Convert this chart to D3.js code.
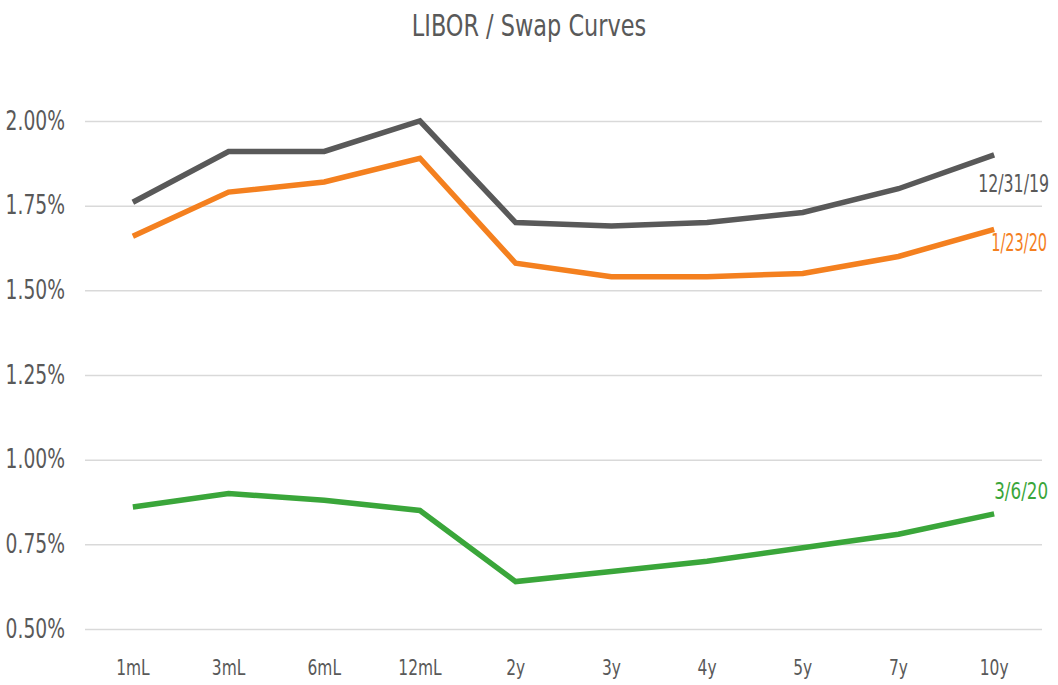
<!DOCTYPE html>
<html>
<head>
<meta charset="utf-8">
<script src="https://cdn.jsdelivr.net/npm/d3@7"></script>
<style>
  html, body { margin: 0; padding: 0; background: #fff; }
  svg text { font-family: "Liberation Sans Narrow", "DejaVu Sans Condensed", "Arial Narrow", sans-serif; }
</style>
</head>
<body>
<div id="chart"></div>
<script>
// tenors on the x axis
const tenors = ["1mL", "3mL", "6mL", "12mL", "2y", "3y", "4y", "5y", "7y", "10y"];

// curves (in %)
const dec31 = [1.76, 1.91, 1.91, 2.00, 1.70, 1.69, 1.70, 1.73, 1.80, 1.90];
const jan23 = [1.66, 1.79, 1.82, 1.89, 1.58, 1.54, 1.54, 1.55, 1.60, 1.68];
const mar06 = [0.86, 0.90, 0.88, 0.85, 0.64, 0.67, 0.70, 0.74, 0.78, 0.84];

const yTicks = [0.50, 0.75, 1.00, 1.25, 1.50, 1.75, 2.00];

const seriesNames = ["12/31/19", "1/23/20", "3/6/20"];
const seriesData = [dec31, jan23, mar06];

const WIDTH = 1058;
const HEIGHT = 685;
const MARGIN = { top: 121, right: 16, bottom: 56, left: 85 };
const COLORS = ["#595959", "#f4801f", "#3aa63a"];
const TEXT_COLOR = "#595959";

// 横方向に詰める (reference font is narrow)
const squeeze = (sel, factor) => {
  sel.each(function () {
    const w = this.getComputedTextLength();
    d3.select(this)
      .attr("textLength", w * factor)
      .attr("lengthAdjust", "spacingAndGlyphs");
  });
};

const svg = d3.select("#chart")
  .append("svg")
  .attr("width", WIDTH)
  .attr("height", HEIGHT)
  .attr("viewBox", `0 0 ${WIDTH} ${HEIGHT}`);

// タイトル
svg.append("text")
  .attr("x", 529)
  .attr("y", 36)
  .attr("text-anchor", "middle")
  .attr("font-size", "30px")
  .attr("fill", TEXT_COLOR)
  .text("LIBOR / Swap Curves")
  .call(squeeze, 0.83);

const x = d3.scaleBand()
  .domain(tenors)
  .range([MARGIN.left, WIDTH - MARGIN.right]);

const y = d3.scaleLinear()
  .domain([0.5, 2.0])
  .range([HEIGHT - MARGIN.bottom, MARGIN.top]);

// Y軸 + grid
const yAxis = svg.append("g")
  .attr("class", "y-axis")
  .attr("transform", `translate(${MARGIN.left}, 0)`)
  .call(d3.axisLeft(y)
    .tickValues(yTicks)
    .tickFormat(d => d.toFixed(2) + "%")
    .tickSize(-(WIDTH - MARGIN.left - MARGIN.right))
    .tickPadding(20));
yAxis.select(".domain").remove();
yAxis.selectAll(".tick line")
  .attr("stroke", "#d9d9d9")
  .attr("stroke-width", 1.5);
yAxis.selectAll(".tick text")
  .attr("font-size", "26px")
  .attr("fill", TEXT_COLOR)
  .call(squeeze, 0.8);

// X軸
const xAxis = svg.append("g")
  .attr("class", "x-axis")
  .attr("transform", `translate(0, ${HEIGHT - MARGIN.bottom})`)
  .call(d3.axisBottom(x).tickSize(0).tickPadding(30));
xAxis.select(".domain").remove();
xAxis.selectAll(".tick text")
  .attr("font-size", "22px")
  .attr("fill", TEXT_COLOR)
  .call(squeeze, 0.78);

// 線
const line = d3.line()
  .x((d, i) => x(tenors[i]) + x.bandwidth() / 2)
  .y(d => y(d));

seriesData.forEach((vals, k) => {
  svg.append("path")
    .datum(vals)
    .attr("fill", "none")
    .attr("stroke", COLORS[k])
    .attr("stroke-width", 5.5)
    .attr("stroke-linejoin", "miter")
    .attr("d", line);
});

// ラベル (end of each curve) - scaled horizontally to the narrow look
const last = tenors.length - 1;
const labelStyle = [
  { dx: -16, dy: 37, size: 25, width: 71 },
  { dx: -3, dy: 22, size: 24, width: 56 },
  { dx: 0, dy: -15, size: 23, width: 54 }
];
seriesData.forEach((vals, k) => {
  const g = svg.append("g");
  const t = g.append("text")
    .attr("font-size", labelStyle[k].size + "px")
    .attr("fill", COLORS[k])
    .text(seriesNames[k]);
  const w = t.node().getComputedTextLength();
  const lx = x(tenors[last]) + x.bandwidth() / 2 + labelStyle[k].dx;
  const ly = y(vals[last]) + labelStyle[k].dy;
  g.attr("transform", `translate(${lx},${ly}) scale(${labelStyle[k].width / w},1)`);
});
</script>
</body>
</html>
